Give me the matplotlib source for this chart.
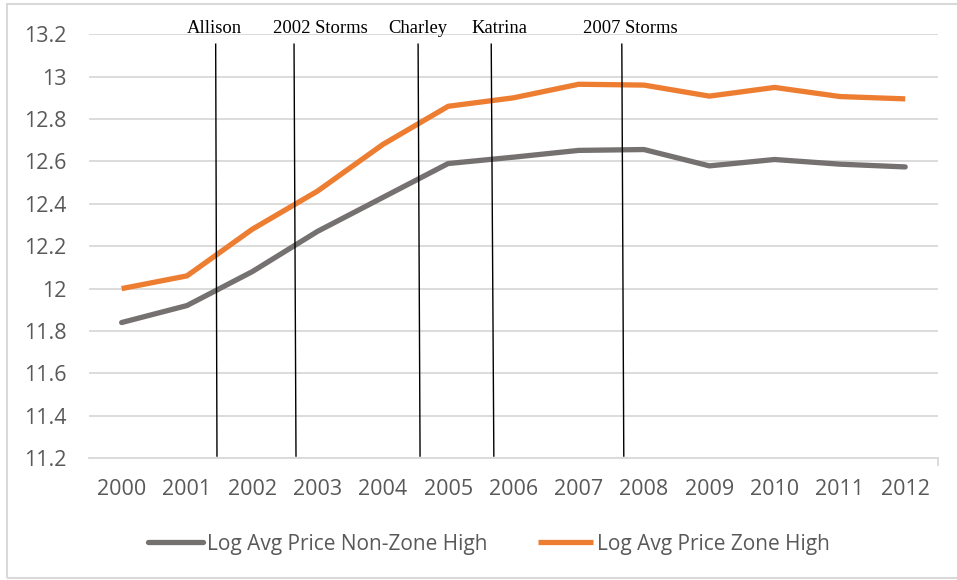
import matplotlib.pyplot as plt
import matplotlib.patches as patches
import numpy as np

years = ['2000', '2001', '2002', '2003', '2004', '2005', '2006',
         '2007', '2008', '2009', '2010', '2011', '2012']
non_zone_high = [11.84, 11.92, 12.08, 12.27, 12.43, 12.59, 12.62,
                 12.652, 12.656, 12.579, 12.609, 12.587, 12.574]
zone_high = [12.00, 12.06, 12.28, 12.46, 12.68, 12.86, 12.90,
             12.964, 12.960, 12.908, 12.949, 12.906, 12.895]

# storm markers: label, x at top, x at bottom (category units)
events = ['Allison', '2002 Storms', 'Charley', 'Katrina', '2007 Storms']
event_top = [1.44, 2.64, 4.54, 5.66, 7.66]
event_bot = [1.46, 2.67, 4.57, 5.70, 7.69]
event_label_x = [1.42, 3.04, 4.54, 5.79, 7.79]

tick_font = 'Open Sans'
grey_txt = '#595959'
grid_c = '#d9d9d9'

fig = plt.figure(figsize=(9.57, 5.80), dpi=100)
ax = fig.add_axes([0.093, 0.210, 0.887, 0.731])

x = np.arange(len(years))
ax.plot(x, non_zone_high, color='#767171', lw=3.8, solid_capstyle='round',
        label='Log Avg Price Non-Zone High', zorder=3)
ax.plot(x, zone_high, color='#ed7d31', lw=3.8, solid_capstyle='butt',
        label='Log Avg Price Zone High', zorder=3)

for lab, xt, xb, xl in zip(events, event_top, event_bot, event_label_x):
    ax.plot([xt, xb], [13.153, 11.21], color='black', lw=1.0, zorder=4)
    ax.text(xl, 13.228, lab, ha='center', va='center', fontsize=13.4,
            family='Liberation Serif', color='black', clip_on=False)

ax.set_xlim(-0.5, 12.5)
ax.set_ylim(11.2, 13.2)
ax.set_yticks(np.arange(11.2, 13.21, 0.2))
ax.set_yticklabels(['11.2', '11.4', '11.6', '11.8', '12', '12.2', '12.4',
                    '12.6', '12.8', '13', '13.2'])
ax.set_xticks(x)
ax.set_xticklabels(years)
ax.set_xticks(list(x) + [12.5], minor=True)
ax.grid(axis='y', color=grid_c, lw=1.3)
ax.set_axisbelow(True)
for s in ['top', 'right', 'left']:
    ax.spines[s].set_visible(False)
ax.spines['bottom'].set_color(grid_c)
ax.spines['bottom'].set_linewidth(1.3)
ax.tick_params(axis='y', length=0, pad=16, labelsize=15.5, labelcolor=grey_txt)
ax.tick_params(axis='x', which='major', length=0, pad=15, labelsize=15.5,
               labelcolor=grey_txt)
ax.tick_params(axis='x', which='minor', length=6, color=grid_c, width=1.3)
for t in ax.get_xticklabels() + ax.get_yticklabels():
    t.set_family(tick_font)

fig.legend(loc='center', bbox_to_anchor=(0.511, 0.062), ncol=2, frameon=False,
           prop={'family': tick_font, 'size': 15}, labelcolor=grey_txt,
           handlelength=2.6, columnspacing=2.45, handletextpad=0.2)

border = patches.Rectangle((0.007, 0.003), 1.2, 0.99, transform=fig.transFigure,
                           fill=False, edgecolor=grid_c, lw=1.5)
fig.patches.append(border)

fig.savefig('out.png', dpi=100)
